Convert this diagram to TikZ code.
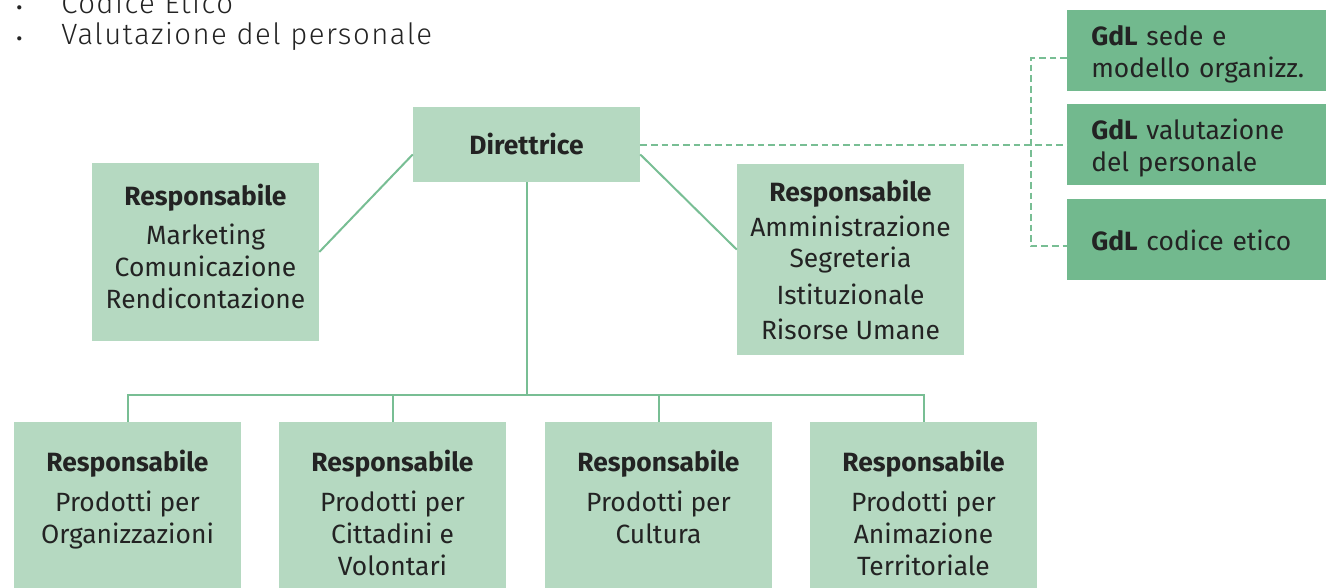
\documentclass[tikz,border=0pt]{standalone}
\usepackage{fontspec}
\setmainfont{Fira Sans}
\newfontfamily\lightfont[LetterSpace=5]{Fira Sans Light}
\usetikzlibrary{positioning}

\definecolor{boxlight}{RGB}{181,217,193}
\definecolor{boxdark}{RGB}{114,185,142}
\definecolor{linegreen}{RGB}{120,190,148}
\definecolor{textgray}{RGB}{35,35,35}

\newcommand{\bulletmark}{\makebox[34.5pt][l]{\raisebox{-3.2pt}{\fontsize{21}{21}\selectfont\textbullet}}}

\tikzset{
    box/.style={fill=boxlight, text=textgray, minimum width=170.25pt, align=center, inner xsep=0pt, inner ysep=0pt, font=\fontsize{19.8}{24}\selectfont},
    lowbox/.style={box, anchor=north, inner ysep=21pt, text depth=90pt},
    gdlbox/.style={fill=boxdark, text=textgray, anchor=west, minimum height=60.75pt, text width=195pt, align=left, inner xsep=18pt, inner ysep=0pt, font=\fontsize{19.8}{24}\selectfont},
    bullettext/.style={anchor=base west, inner sep=0pt, text=textgray, font=\lightfont\fontsize{22}{26}\selectfont},
    link/.style={draw=linegreen, line width=1.5pt},
    dashlink/.style={draw=linegreen, line width=1.5pt, dash pattern=on 5pt off 3pt}
}

\begin{document}
\begin{tikzpicture}[x=0.75pt, y=-0.75pt]
        \useasboundingbox (0, 0) rectangle (1326, 587);

        % BULLETS
        \node[bullettext] (codice) at (15, 13) {\bulletmark Codice Etico};
        \node[bullettext] (valut) at (15, 44.5) {\bulletmark Valutazione del personale};

        % DIRETTRICE
        \node[box, minimum height=56.25pt] (dir) at (526.5, 144.5) {\textbf{Direttrice}};

        % SIDE BOXES
        \node[box, minimum height=133.5pt] (mark) at (205.5, 252) {\textbf{Responsabile}\\[5pt]Marketing\\Comunicazione\\Rendicontazione\rule[-9pt]{0pt}{9pt}};
        \node[box, minimum height=143.25pt] (amm) at (850.5, 259.5) {\textbf{Responsabile}\\[2.25pt]Amministrazione\\[-0.75pt]Segreteria\\[3.75pt]Istituzionale\\[2.25pt]Risorse Umane};

        % GDL
        \node[gdlbox] (gdl1) at (1067, 50.5) {\rule{0pt}{21pt}\textbf{GdL} sede e\\modello organizz.};
        \node[gdlbox] (gdl2) at (1067, 144.5) {\rule{0pt}{21pt}\textbf{GdL} valutazione\\del personale};
        \node[gdlbox] (gdl3) at (1067, 239) {\rule{0pt}{18pt}\textbf{GdL} codice etico};

        % BOTTOM ROW
        \node[lowbox] (prod1) at (127.5, 422) {\textbf{Responsabile}\\[6pt]Prodotti per\\Organizzazioni};
        \node[lowbox] (prod2) at (392.5, 422) {\textbf{Responsabile}\\[6pt]Prodotti per\\Cittadini e\\Volontari};
        \node[lowbox] (prod3) at (658.5, 422) {\textbf{Responsabile}\\[6pt]Prodotti per\\Cultura};
        \node[lowbox] (prod4) at (923.5, 422) {\textbf{Responsabile}\\[6pt]Prodotti per\\Animazione\\Territoriale};

        % LINKS
        \coordinate (bus) at (526.5, 395);
        \coordinate (split) at (1031, 144.5);
        \draw[link] (dir.185) -- (mark.east);
        \draw[link] (dir.-5) -- (amm.175);
        \draw[link] (dir.south) -- (bus);
        \draw[link] (prod1.north) |- (bus) -| (prod4.north);
        \draw[link] (prod2.north) -- (prod2.north |- bus);
        \draw[link] (prod3.north) -- (prod3.north |- bus);

        \draw[dashlink] (dir.east) -- (gdl2.west);
        \draw[dashlink] ([yshift=-5.5pt]gdl1.west) -| (split) |- ([yshift=-5.5pt]gdl3.west);
    \end{tikzpicture}
\end{document}
